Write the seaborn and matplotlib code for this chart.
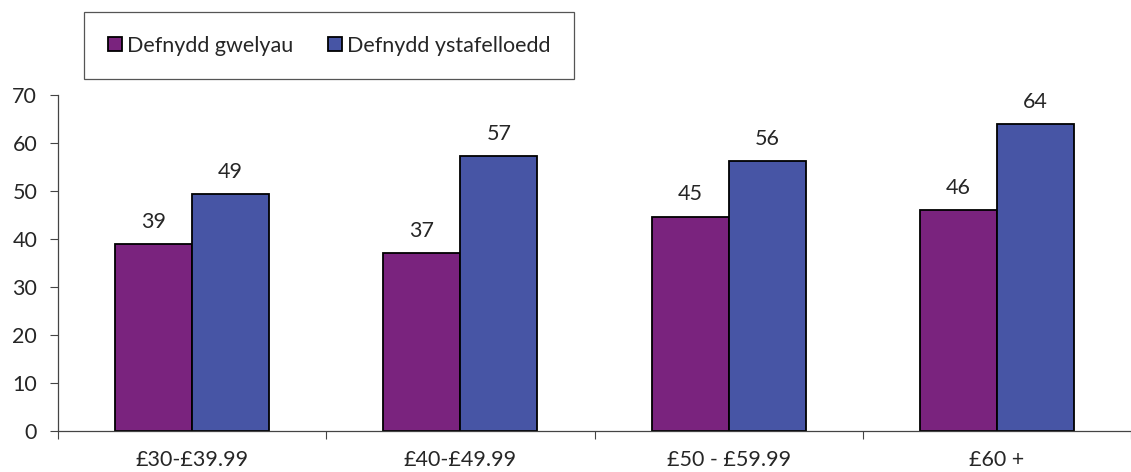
import pandas as pd
import matplotlib.pyplot as plt
import seaborn as sns

# Data
categories = ['£30-£39.99', '£40-£49.99', '£50 - £59.99', '£60 +']
series_names = ['Defnydd gwelyau', 'Defnydd ystafelloedd']
bed_use = [38.9, 37.0, 44.7, 46.0]
room_use = [49.4, 57.3, 56.2, 64.0]
y_ticks = [0, 10, 20, 30, 40, 50, 60, 70]

df = pd.DataFrame({
    'band': categories * 2,
    'series': [series_names[0]] * 4 + [series_names[1]] * 4,
    'value': bed_use + room_use,
})

sns.set_style('white')
plt.rcParams['font.family'] = ['Lato', 'DejaVu Sans']
fs = 15.5

fig = plt.figure(figsize=(11.31, 4.72), dpi=100)
ax = fig.add_axes([58 / 1131, 41.3 / 472, 1 - 58 / 1131, 335.4 / 472])

palette = {series_names[0]: '#7A237E', series_names[1]: '#4755A5'}
sns.barplot(data=df, x='band', y='value', hue='series', palette=palette,
            width=0.574, gap=0, edgecolor='black', linewidth=1.3,
            saturation=1, ax=ax, legend=True)

for container in ax.containers:
    ax.bar_label(container, fmt='%.0f', padding=9, fontsize=fs)

ax.set_ylim(0, 70)
ax.set_xlim(-0.5, 3.47)
ax.set_yticks(y_ticks)
ax.set_xlabel('')
ax.set_ylabel('')

# category labels centred, tick marks between categories
ax.set_xticks(range(len(categories)))
ax.set_xticklabels(categories, fontsize=fs)
ax.set_xticks([-0.5, 0.5, 1.5, 2.5, 3.5], minor=True)
ax.tick_params(axis='x', which='major', length=0, pad=14)
ax.tick_params(axis='x', which='minor', length=6, width=0.8, color='#444444', direction='out', bottom=True)
ax.tick_params(axis='y', length=6, width=0.8, color='#444444', direction='out', left=True, labelsize=fs, pad=9)

for side in ['top', 'right']:
    ax.spines[side].set_visible(False)
for side in ['left', 'bottom']:
    ax.spines[side].set_color('#444444')
    ax.spines[side].set_linewidth(0.9)

handles, labels = ax.get_legend_handles_labels()
ax.get_legend().remove()
leg = fig.legend(handles, labels, loc='upper left', bbox_to_anchor=(84 / 1131, 1 - 12 / 472),
                 ncol=2, fontsize=fs, frameon=True, fancybox=False, framealpha=1,
                 edgecolor='#555555', handlelength=0.65, handleheight=0.65,
                 handletextpad=0.25, columnspacing=1.6, borderpad=1.1, borderaxespad=0)
leg.get_frame().set_linewidth(0.9)

fig.savefig('out.png', dpi=100)
